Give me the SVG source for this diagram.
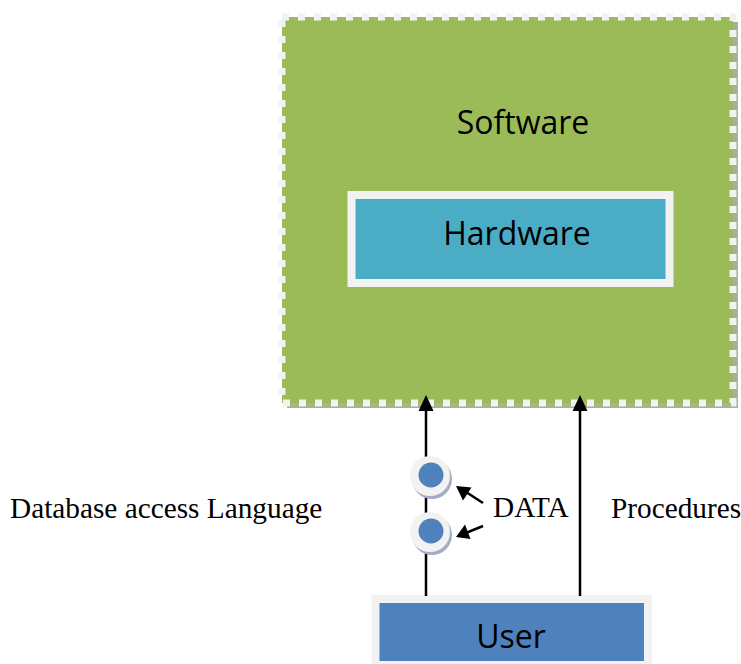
<svg xmlns="http://www.w3.org/2000/svg" width="741" height="664" viewBox="0 0 741 664">
<style>
.sans{font-family:"Open Sans","Noto Sans","Liberation Sans",sans-serif;font-size:32px;fill:#000;text-anchor:middle}
.serif{font-family:"Liberation Serif","Times New Roman",serif;font-size:29.3px;fill:#000}
.conn{stroke:#000;stroke-width:2.5;fill:none}
.ring{fill:#f2f2f2}
.ringsh{fill:#a3aec4}
.dot{fill:#4f81bd}
</style>
<defs>
<marker id="ah" markerWidth="6" markerHeight="6" refX="5" refY="3" orient="auto" markerUnits="strokeWidth">
<path d="M0,0 L6,3 L0,6 Z" fill="#000"/>
</marker>
</defs>
<rect width="741" height="664" fill="#fff"/>
<g id="software">
<rect x="287" y="22" width="451" height="386" fill="#a7b295"/>
<rect x="282" y="17" width="451" height="386" fill="#9bbb59" stroke="#f2f2f2" stroke-width="7" stroke-dasharray="7 9"/>
<text class="sans" x="523" y="134">Software</text>
</g>
<g id="hardware">
<rect x="354.5" y="199" width="318" height="88" fill="#6b8a4b"/>
<rect x="351.5" y="195" width="318" height="88" fill="#4bacc6" stroke="#f2f2f2" stroke-width="8"/>
<text class="sans" x="517" y="245">Hardware</text>
</g>
<g id="user">
<rect x="378.5" y="602" width="272.5" height="66" fill="#98a6bd"/>
<rect x="375.5" y="599" width="272.5" height="66" fill="#4f81bd" stroke="#f2f2f2" stroke-width="8"/>
<text class="sans" x="511" y="648">User</text>
</g>
<g id="connectors">
<line class="conn" x1="426" y1="596" x2="426" y2="410"/>
<path d="M426,395 L418.5,411 L433.5,411 Z" fill="#000"/>
<line class="conn" x1="580" y1="596" x2="580" y2="410"/>
<path d="M580,395 L572.5,411 L587.5,411 Z" fill="#000"/>
<line class="conn" x1="483" y1="503" x2="466" y2="492"/>
<path d="M456,486 L471.5,487.5 L463,500.5 Z" fill="#000"/>
<line class="conn" x1="483" y1="526" x2="467" y2="532.5"/>
<path d="M456,537 L465,524.5 L470.5,539 Z" fill="#000"/>
</g>
<g id="data-item-1">
<circle class="ringsh" cx="432" cy="479" r="20"/>
<circle class="ring" cx="430" cy="476" r="20"/>
<circle class="dot" cx="431" cy="475" r="12.5"/>
</g>
<g id="data-item-2">
<circle class="ringsh" cx="432" cy="535" r="20"/>
<circle class="ring" cx="430" cy="532" r="20"/>
<circle class="dot" cx="431" cy="531" r="12.5"/>
</g>
<g id="labels">
<text class="serif" x="10" y="518">Database access Language</text>
<text class="serif" x="493" y="517">DATA</text>
<text class="serif" x="611" y="518">Procedures</text>
</g>
</svg>
